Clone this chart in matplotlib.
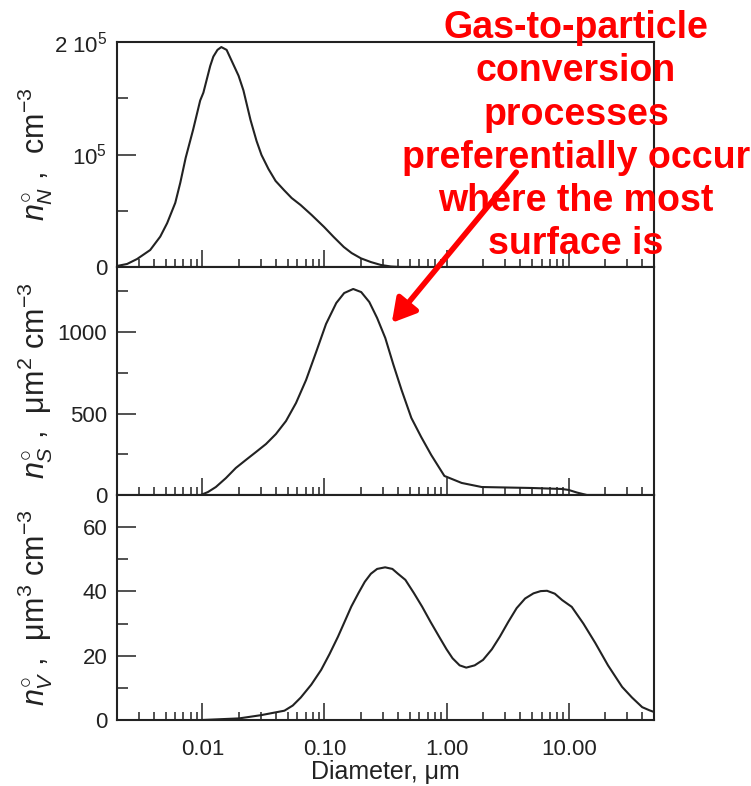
import numpy as np
import matplotlib
matplotlib.use('Agg')
from matplotlib import pyplot as plt
from matplotlib.ticker import FixedLocator, LogLocator, NullFormatter

plt.rcParams['font.family'] = ['Liberation Sans', 'DejaVu Sans']
plt.rcParams['mathtext.fontset'] = 'custom'
plt.rcParams['mathtext.rm'] = 'Liberation Sans'
plt.rcParams['mathtext.it'] = 'Liberation Sans:italic'

# number distribution, cm^-3
dp_n = [0.00200, 0.00242, 0.00292, 0.00374, 0.00452, 0.00515, 0.0060, 0.0066, 0.0073, 0.0084,
        0.0096, 0.0102, 0.0116, 0.0123, 0.0133, 0.0143, 0.0158, 0.0176, 0.0198, 0.0217,
        0.0248, 0.0278, 0.0305, 0.0348, 0.0398, 0.0466, 0.0539, 0.0638, 0.0786, 0.0993,
        0.119, 0.144, 0.167, 0.199, 0.24, 0.29, 0.35, 0.42, 0.6]
n_num = [900, 2700, 7100, 15100, 27000, 39000, 57000, 75000, 97000, 122000,
         148000, 155000, 178700, 187000, 193000, 195500, 193000, 182000, 170000, 157000,
         130700, 112000, 99600, 87100, 76500, 68400, 61300, 55100, 46200, 35600,
         26700, 17800, 12400, 7700, 4400, 1800, 450, 0, 0]

# surface distribution, um^2 cm^-3
dp_s = [0.0097, 0.0111, 0.0129, 0.0156, 0.0188, 0.0227, 0.0275, 0.0332, 0.040, 0.0484,
        0.0585, 0.0707, 0.0855, 0.103, 0.125, 0.145, 0.172, 0.200, 0.233, 0.270,
        0.315, 0.367, 0.428, 0.515, 0.62, 0.75, 0.96, 1.33, 1.94, 5.0,
        8.8, 10.0, 11.7, 14.1, 20]
n_surf = [0, 18, 49, 104, 166, 215, 264, 313, 374, 454,
          565, 706, 878, 1050, 1179, 1240, 1265, 1246, 1185, 1087,
          964, 800, 645, 473, 356, 245, 117, 74, 49, 43,
          37, 31, 15, 0, 0]

# volume distribution, um^3 cm^-3
dp_v = [0.01, 0.02, 0.0302, 0.047, 0.055, 0.064, 0.078, 0.094, 0.110, 0.129,
        0.146, 0.166, 0.190, 0.214, 0.24, 0.27, 0.314, 0.36, 0.40, 0.46,
        0.54, 0.63, 0.74, 0.87, 1.0, 1.12, 1.28, 1.45, 1.7, 1.99,
        2.35, 2.73, 3.2, 3.75, 4.4, 5.15, 5.9, 6.65, 7.7, 8.85,
        10.6, 13.2, 16.5, 21.0, 27.4, 33.0, 40.0, 46.0, 50.0]
n_vol = [0.0, 0.5, 1.5, 2.9, 4.5, 7.0, 11.0, 15.6, 20.5, 25.9,
         30.5, 35.3, 39.5, 43.0, 45.5, 47.0, 47.5, 47.0, 45.5, 43.6,
         39.5, 35.3, 30.5, 25.9, 22.0, 19.2, 17.0, 16.3, 17.0, 18.7,
         22.0, 25.9, 30.5, 34.8, 37.8, 39.4, 40.1, 40.2, 39.3, 37.3,
         35.2, 30.0, 24.0, 17.0, 10.3, 7.0, 4.0, 3.0, 2.5]

xticks = [0.01, 0.1, 1, 10]
xticklabels = ['0.01', '0.10', '1.00', '10.00']

panels = [
    (dp_n, n_num, (0, 2e5), [0, 1e5, 2e5], ['0', r'10$^5$', r'2 10$^5$'], [5e4, 1.5e5],
     r'$n^{\circ}_{N}$ ,  cm$^{-3}$'),
    (dp_s, n_surf, (0, 1400), [0, 500, 1000], ['0', '500', '1000'], [250, 750, 1250],
     r'$n^{\circ}_{S}$ ,  $\mathrm{\mu}$m$^2$ cm$^{-3}$'),
    (dp_v, n_vol, (0, 70), [0, 20, 40, 60], ['0', '20', '40', '60'], [10, 30, 50],
     r'$n^{\circ}_{V}$ ,  $\mathrm{\mu}$m$^3$ cm$^{-3}$'),
]

ink = '#222222'
fig = plt.figure(figsize=(7.51, 7.86), dpi=100)
left, width = 117 / 751, (654 - 117) / 751
edges = [42, 267, 495, 720]   # pixel rows of the panel borders

for i, (xs, ys, ylim, yt, ytl, ymin, ylab) in enumerate(panels):
    top, bot = edges[i], edges[i + 1]
    ax = fig.add_axes([left, 1 - bot / 786, width, (bot - top) / 786])
    ax.plot(xs, ys, color=ink, lw=1.5)
    ax.set_xscale('log')
    ax.set_xlim(0.002, 50)
    ax.set_ylim(*ylim)
    ax.xaxis.set_major_locator(FixedLocator(xticks))
    ax.xaxis.set_minor_locator(LogLocator(base=10, subs=np.arange(2, 10)))
    ax.xaxis.set_minor_formatter(NullFormatter())
    ax.yaxis.set_major_locator(FixedLocator(yt))
    ax.yaxis.set_minor_locator(FixedLocator(ymin))
    ax.set_yticklabels(ytl)
    if i == 2:
        ax.set_xticklabels(xticklabels)
        ax.set_xlabel('Diameter, \u03bcm', fontsize=18, labelpad=0, color=ink)
    else:
        ax.set_xticklabels([])
    ax.tick_params(axis='x', which='both', direction='in', top=False, pad=14,
                   labelsize=16, colors=ink, width=1.1)
    ax.tick_params(axis='x', which='major', length=12)
    ax.tick_params(axis='x', which='minor', length=6)
    ax.tick_params(axis='y', which='both', direction='in', right=False, pad=7,
                   labelsize=16, colors=ink, width=1.1)
    ax.tick_params(axis='y', which='major', length=14)
    ax.tick_params(axis='y', which='minor', length=8)
    for sp in ax.spines.values():
        sp.set_linewidth(1.5)
        sp.set_color(ink)
    ax.set_ylabel(ylab, fontsize=22, color=ink)
    ax.yaxis.set_label_coords(-0.115, 0.5)

fig.text(576 / 751, 1 - 10 / 786,
         'Gas-to-particle\nconversion\nprocesses\npreferentially occur\nwhere the most\nsurface is',
         ha='center', va='top', color='red', fontsize=27, fontweight='bold',
         linespacing=1.26)

fig.patches.append(matplotlib.patches.FancyArrowPatch(
    (518 / 751, 1 - 170 / 786), (390 / 751, 1 - 325 / 786),
    transform=fig.transFigure, arrowstyle='-|>,head_length=14,head_width=8',
    color='red', lw=4, mutation_scale=1))

fig.savefig('out.png', dpi=100)
